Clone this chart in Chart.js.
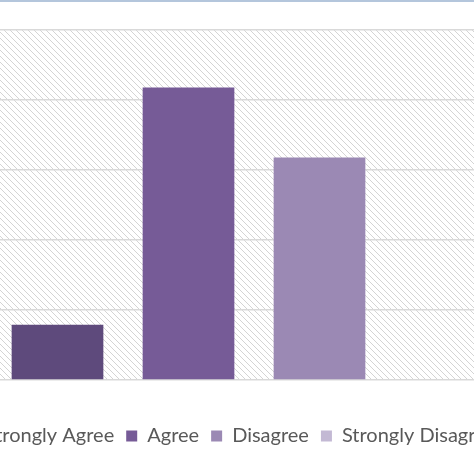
<!DOCTYPE html>
<html>
<head>
<meta charset="utf-8">
<script src="https://cdn.jsdelivr.net/npm/chart.js@4"></script>
<style>
  html, body { margin: 0; padding: 0; background: #fff; overflow: hidden; width: 474px; height: 474px; }
  .topline { position: absolute; left: 0; top: 0; width: 474px; height: 2px; background: #b4c6dc; z-index: 2; }
  .wrap { position: absolute; left: -56px; top: 0; width: 660px; height: 474px; }
</style>
</head>
<body>
<div class="topline"></div>
<div class="wrap"><canvas id="c" width="660" height="474"></canvas></div>
<script>
const seriesNames = ["Strongly Agree", "Agree", "Disagree", "Strongly Disagree"];
const seriesValues = [7.9, 41.8, 31.8, 0];
const seriesColors = ["#5e4a7c", "#765b97", "#9b89b4", "#c3b9d4"];

// diagonal hatch for plot background
function hatch() {
    const p = document.createElement('canvas');
    p.width = 6; p.height = 6;
    const g = p.getContext('2d');
    g.strokeStyle = '#d4d4d4';
    g.lineWidth = 1;
    g.beginPath();
    g.moveTo(0, 0); g.lineTo(6, 6);
    g.moveTo(-3, 3); g.lineTo(3, 9);
    g.moveTo(3, -3); g.lineTo(9, 3);
    g.stroke();
    return p;
}

const bgPlugin = {
    id: 'bg',
    beforeDraw(chart) {
        const { ctx, chartArea: a } = chart;
        ctx.save();
        ctx.fillStyle = ctx.createPattern(hatch(), 'repeat');
        ctx.fillRect(a.left, a.top, a.right - a.left, a.bottom - a.top);
        ctx.restore();
    }
};

new Chart(document.getElementById('c'), {
    type: 'bar',
    data: {
        labels: [''],
        datasets: seriesNames.map((n, i) => ({
            label: n,
            data: [seriesValues[i]],
            backgroundColor: seriesColors[i]
        }))
    },
    options: {
        responsive: false,
        animation: false,
        layout: { padding: { top: 30, left: 0, right: 88, bottom: 18 } },
        datasets: { bar: { categoryPercentage: 1, barPercentage: 0.70 } },
        scales: {
            x: {
                ticks: { display: false },
                grid: { display: false },
                border: { display: false },
                afterFit(s) { s.height = 34; }
            },
            y: {
                min: 0, max: 50,
                ticks: { display: false, stepSize: 10 },
                grid: { color: '#d9d9d9', lineWidth: 1.5, drawTicks: false },
                border: { display: false },
                afterFit(s) { s.width = 48; }
            }
        },
        plugins: {
            legend: {
                position: 'bottom',
                labels: {
                    boxWidth: 11, boxHeight: 11, padding: 12,
                    color: '#595959',
                    font: { family: 'Lato', size: 20 }
                }
            },
            tooltip: { enabled: false }
        }
    },
    plugins: [bgPlugin]
});
</script>
</body>
</html>
